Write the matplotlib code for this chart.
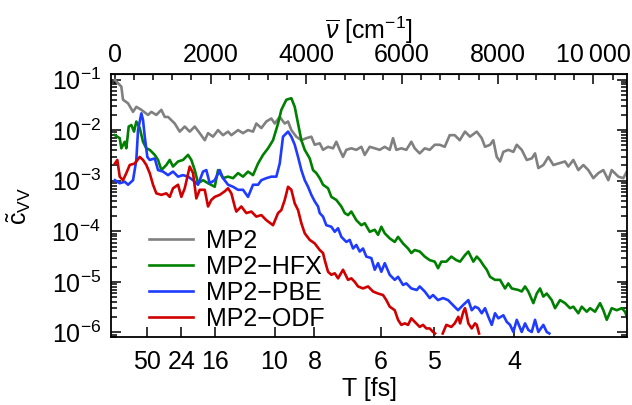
import numpy as np
import matplotlib
matplotlib.use("Agg")
import matplotlib.pyplot as plt
from matplotlib.ticker import LogLocator, MultipleLocator, NullFormatter

plt.rcParams["font.family"] = ["Liberation Sans", "DejaVu Sans"]
plt.rcParams["mathtext.fontset"] = "custom"
plt.rcParams["mathtext.rm"] = "Liberation Sans"
plt.rcParams["mathtext.it"] = "Liberation Sans:italic"
plt.rcParams["mathtext.bf"] = "Liberation Sans:bold"
plt.rcParams["font.size"] = 18

# spectra: wavenumber [cm^-1] and log10 of c_VV
mp2_nu = [0, 134, 169, 274, 378, 447, 552, 692, 761, 865, 970, 1041, 1110, 1250,
          1354, 1459, 1563, 1668, 1772, 1877, 1946, 2050, 2155, 2259, 2364, 2433,
          2573, 2677, 2782, 2886, 2955, 3060, 3164, 3269, 3340, 3444, 3549, 3618,
          3687, 3791, 3896, 4000, 4105, 4176, 4280, 4349, 4454, 4558, 4627, 4698,
          4767, 4836, 4941, 5045, 5150, 5221, 5325, 5430, 5534, 5639, 5743, 5812,
          5881, 5986, 6090, 6195, 6266, 6370, 6475, 6579, 6684, 6788, 6893, 6997,
          7102, 7206, 7317, 7421, 7562, 7666, 7735, 7840, 7908, 7980, 8049, 8118,
          8222, 8327, 8398, 8502, 8607, 8711, 8780, 8849, 8954, 9058, 9163, 9267,
          9407, 9476, 9581, 9685, 9790, 9894, 9999, 10103, 10208, 10312, 10383,
          10521, 10626, 10697]
mp2_log = [-1.01, -1.14, -1.40, -1.47, -1.64, -1.54, -1.60, -1.70, -1.64, -1.70,
           -1.60, -1.74, -1.74, -1.87, -2.03, -1.93, -2.03, -1.93, -2.06, -2.20,
           -2.06, -2.13, -2.00, -2.10, -2.03, -2.10, -2.00, -2.06, -2.00, -2.03,
           -1.87, -1.96, -1.83, -1.77, -1.87, -1.74, -1.87, -1.83, -2.00, -2.13,
           -2.20, -2.16, -2.13, -2.29, -2.26, -2.39, -2.33, -2.36, -2.23, -2.39,
           -2.53, -2.39, -2.36, -2.39, -2.33, -2.49, -2.33, -2.36, -2.39, -2.33,
           -2.39, -2.16, -2.39, -2.36, -2.39, -2.23, -2.36, -2.46, -2.36, -2.39,
           -2.29, -2.29, -2.33, -2.10, -2.10, -2.20, -2.03, -2.13, -2.03, -2.16,
           -2.33, -2.29, -2.20, -2.53, -2.62, -2.43, -2.39, -2.43, -2.29, -2.39,
           -2.59, -2.56, -2.46, -2.75, -2.69, -2.53, -2.69, -2.66, -2.62, -2.72,
           -2.59, -2.79, -2.69, -2.79, -2.95, -2.85, -2.79, -2.99, -2.79, -2.92,
           -2.95, -2.82]

hfx_nu = [0, 100, 134, 205, 238, 288, 343, 399, 447, 518, 587, 656, 727, 832, 901,
          970, 1074, 1145, 1214, 1319, 1423, 1528, 1597, 1668, 1737, 1841, 1946,
          2086, 2155, 2259, 2364, 2468, 2573, 2677, 2782, 2886, 2991, 3095, 3200,
          3304, 3409, 3478, 3582, 3687, 3758, 3827, 3896, 3967, 4071, 4140, 4209,
          4280, 4349, 4454, 4523, 4627, 4732, 4803, 4872, 4941, 5045, 5150, 5221,
          5325, 5430, 5499, 5568, 5639, 5743, 5848, 5917, 6021, 6126, 6195, 6266,
          6370, 6475, 6579, 6684, 6753, 6822, 6926, 7031, 7135, 7213, 7317, 7386,
          7491, 7562, 7631, 7700, 7771, 7840, 7944, 8049, 8153, 8222, 8293, 8431,
          8502, 8571, 8640, 8745, 8816, 8885, 8954, 9025, 9129, 9198, 9303, 9407,
          9512, 9581, 9685, 9756, 9861, 9930, 10034, 10139, 10208, 10279, 10383,
          10488, 10593, 10662, 10710]
hfx_log = [-2.10, -2.16, -2.36, -2.23, -2.36, -1.93, -1.90, -2.03, -1.83, -1.96,
           -2.23, -2.36, -2.39, -2.49, -2.59, -2.79, -2.69, -2.59, -2.72, -2.62,
           -2.59, -2.49, -2.59, -2.79, -3.05, -2.99, -3.05, -3.12, -2.79, -2.95,
           -2.92, -2.95, -2.85, -2.92, -2.82, -2.89, -2.66, -2.49, -2.36, -2.20,
           -1.87, -1.60, -1.40, -1.37, -1.54, -1.87, -2.20, -2.39, -2.56, -2.79,
           -2.85, -2.95, -3.08, -3.15, -3.32, -3.38, -3.51, -3.64, -3.68, -3.61,
           -3.78, -3.88, -3.84, -4.01, -3.97, -4.07, -3.91, -4.04, -4.14, -4.21,
           -4.11, -4.24, -4.34, -4.43, -4.37, -4.40, -4.50, -4.57, -4.60, -4.73,
           -4.60, -4.60, -4.50, -4.57, -4.60, -4.47, -4.40, -4.60, -4.50, -4.57,
           -4.67, -4.76, -4.90, -4.96, -4.96, -5.13, -5.03, -5.13, -5.16, -5.19,
           -5.09, -5.19, -5.42, -5.23, -5.13, -5.29, -5.23, -5.36, -5.52, -5.36,
           -5.42, -5.52, -5.49, -5.62, -5.49, -5.59, -5.52, -5.59, -5.42, -5.56,
           -5.75, -5.52, -5.56, -5.52, -5.59, -5.72]

pbe_nu = [0, 100, 205, 274, 378, 447, 483, 552, 587, 623, 677, 727, 832, 901, 1005,
          1110, 1214, 1319, 1423, 1528, 1632, 1737, 1841, 1910, 1981, 2086, 2190,
          2259, 2364, 2468, 2573, 2677, 2782, 2886, 2991, 3060, 3164, 3269, 3373,
          3444, 3513, 3618, 3687, 3758, 3827, 3896, 3967, 4036, 4105, 4176, 4245,
          4280, 4349, 4418, 4523, 4594, 4663, 4732, 4836, 4907, 4976, 5045, 5116,
          5185, 5254, 5359, 5430, 5499, 5568, 5639, 5743, 5848, 5917, 6021, 6090,
          6195, 6308, 6370, 6475, 6579, 6648, 6753, 6857, 6962, 7066, 7171, 7275,
          7386, 7457, 7526, 7595, 7666, 7735, 7804, 7875, 7944, 8013, 8118, 8189,
          8258, 8327, 8398, 8502, 8571, 8640, 8711, 8780, 8849, 8954, 9025, 9079]
pbe_log = [-2.99, -3.05, -3.02, -3.08, -2.99, -2.59, -2.00, -1.67, -1.80, -2.13,
           -2.53, -2.59, -2.56, -2.79, -2.82, -2.89, -2.82, -2.92, -2.89, -2.92,
           -2.99, -3.08, -2.82, -2.79, -3.05, -2.99, -2.79, -2.95, -3.08, -3.12,
           -3.18, -3.18, -3.32, -3.08, -3.08, -2.99, -2.95, -2.92, -2.92, -2.66,
           -2.13, -2.03, -2.13, -2.29, -2.53, -2.79, -2.99, -3.12, -3.28, -3.41,
           -3.51, -3.64, -3.71, -3.88, -3.91, -4.01, -3.94, -4.11, -4.21, -4.17,
           -4.34, -4.27, -4.40, -4.34, -4.50, -4.53, -4.76, -4.63, -4.80, -4.63,
           -4.86, -4.96, -4.90, -5.06, -5.03, -5.13, -5.16, -5.09, -5.19, -5.32,
           -5.26, -5.36, -5.32, -5.36, -5.46, -5.56, -5.46, -5.36, -5.56, -5.49,
           -5.52, -5.62, -5.52, -5.69, -5.85, -5.62, -5.72, -5.66, -5.79, -5.85,
           -5.99, -5.75, -5.99, -5.82, -5.95, -5.99, -5.75, -5.99, -5.85, -5.99,
           -6.02]

odf_nu = [0, 50, 100, 169, 238, 309, 414, 518, 587, 656, 727, 796, 865, 970, 1074,
          1145, 1214, 1319, 1388, 1459, 1563, 1632, 1701, 1772, 1877, 1946, 2015,
          2086, 2190, 2295, 2364, 2433, 2504, 2537, 2642, 2746, 2851, 2955, 3060,
          3164, 3304, 3409, 3478, 3549, 3618, 3687, 3758, 3827, 3896, 3967, 4071,
          4176, 4280, 4349, 4385, 4454, 4523, 4594, 4663, 4767, 4872, 4941, 5012,
          5081, 5185, 5290, 5394, 5499, 5603, 5672, 5743, 5848, 5917, 5986, 6057,
          6126, 6195, 6266, 6370, 6439, 6508, 6579, 6648, 6690, 6770, 6851, 6926,
          7031, 7102, 7177, 7213, 7282, 7317, 7353, 7386, 7457, 7526, 7562, 7610]
odf_log = [-2.66, -2.59, -2.92, -2.99, -2.85, -2.69, -2.66, -2.53, -2.59, -2.69,
           -2.85, -3.08, -3.25, -3.28, -3.25, -3.32, -3.15, -3.08, -3.32, -3.15,
           -2.72, -2.85, -3.35, -3.18, -3.18, -3.51, -3.38, -3.32, -3.28, -3.21,
           -3.15, -3.25, -3.51, -3.61, -3.51, -3.64, -3.61, -3.71, -3.68, -3.78,
           -3.88, -3.64, -3.58, -3.38, -3.12, -3.18, -3.45, -3.58, -3.84, -4.04,
           -4.17, -4.24, -4.37, -4.43, -4.57, -4.80, -4.86, -4.83, -4.93, -4.76,
           -4.96, -4.93, -5.00, -5.09, -5.13, -5.09, -5.19, -5.23, -5.26, -5.36,
           -5.49, -5.56, -5.75, -5.85, -5.82, -5.85, -5.72, -5.79, -5.89, -5.85,
           -5.92, -5.92, -5.99, -6.02, np.nan, -6.02, -5.85, -5.89, -5.82, -5.69,
           -5.82, -5.59, -5.52, -5.66, -5.82, -5.92, -5.82, -5.85, -6.02]

labels = ["MP2", "MP2\u2212HFX", "MP2\u2212PBE", "MP2\u2212ODF"]
colors = ["#808080", "#008000", "#1f3bff", "#d00000"]

# period axis ticks [fs]; wavenumber = 1e15 / (c * T)
period_ticks = [50, 24, 16, 10, 8, 6, 5, 4]
NU_FS = 33356.4
wavenumber_ticks = [0, 2000, 4000, 6000, 8000, 10000]
wavenumber_labels = ["0", "2000", "4000", "6000", "8000", "10\u2009000"]

fig = plt.figure(figsize=(6.32, 4.05), dpi=100)
ax = fig.add_axes([0.1752, 0.1667, 0.8174, 0.6506])

series = [(mp2_nu, mp2_log), (hfx_nu, hfx_log), (pbe_nu, pbe_log), (odf_nu, odf_log)]
for (nu, lg), c, lab in zip(series, colors, labels):
    ax.plot(nu, 10.0 ** np.array(lg, dtype=float), color=c, lw=1.9, label=lab)

ax.set_yscale("log")
ax.set_xlim(-88, 10709)
ax.set_ylim(10 ** -6.099, 10 ** -0.891)
ax.yaxis.set_major_locator(LogLocator(base=10, numticks=12))
ax.yaxis.set_minor_locator(LogLocator(base=10, subs=np.arange(2, 10), numticks=30))
ax.yaxis.set_minor_formatter(NullFormatter())

ax.set_xticks([NU_FS / t for t in period_ticks])
ax.set_xticklabels([str(t) for t in period_ticks])
ax.tick_params(which="both", direction="in", right=True, top=False, width=1.1)
ax.tick_params(which="major", length=7)
ax.tick_params(which="minor", length=4)
ax.tick_params(axis="x", pad=9)
ax.tick_params(axis="y", pad=7)
ax.set_xlabel("T [fs]", labelpad=2)
ax.set_ylabel(r"$\mathrm{\tilde{c}_{VV}}$", labelpad=13)
for s in ax.spines.values():
    s.set_linewidth(1.3)

top = ax.secondary_xaxis("top")
top.set_xticks(wavenumber_ticks)
top.set_xticklabels(wavenumber_labels)
top.xaxis.set_minor_locator(MultipleLocator(400))
top.tick_params(which="both", direction="in", width=1.1, pad=5)
top.tick_params(which="major", length=7)
top.tick_params(which="minor", length=4)
top.set_xlabel(r"$\overline{\nu}$ [cm$^{-1}$]", labelpad=3)

ax.legend(loc="lower left", bbox_to_anchor=(0.035, -0.052), frameon=False,
          handlelength=1.75, handletextpad=0.55, labelspacing=0.08,
          borderaxespad=0.5, borderpad=0.3)

fig.savefig("out.png", dpi=100)
